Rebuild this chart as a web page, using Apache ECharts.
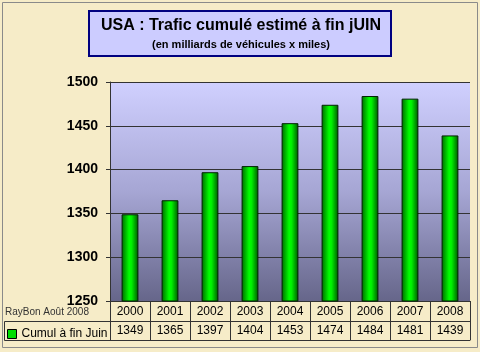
<!DOCTYPE html>
<html>
<head>
<meta charset="utf-8">
<script src="https://cdn.jsdelivr.net/npm/echarts@6/dist/echarts.min.js"></script>
<style>
  html, body { margin: 0; padding: 0; background: #fff; }
  #chart { width: 480px; height: 352px; }
</style>
</head>
<body>
<div id="chart"></div>
<script>
// data
var years = ['2000', '2001', '2002', '2003', '2004', '2005', '2006', '2007', '2008'];
var cumul = [1349, 1365, 1397, 1404, 1453, 1474, 1484, 1481, 1439];
var seriesName = 'Cumul à fin Juin';
var titleText = 'USA : Trafic cumulé estimé à fin jUIN';
var subText = '(en milliards de véhicules x miles)';
var credit = 'RayBon Août 2008';

var chart = echarts.init(document.getElementById('chart'));

var font = 'Arial, "Liberation Sans", sans-serif';
var lineCol = '#333';

chart.setOption({
  backgroundColor: '#F6ECC8',
  textStyle: { fontFamily: font },
  animation: false,
  grid: {
    left: 110, right: 10, top: 82, bottom: 51,
    show: true,
    borderWidth: 0,
    backgroundColor: new echarts.graphic.LinearGradient(0, 0, 0, 1, [
      { offset: 0, color: '#D0D0FF' },
      { offset: 0.5, color: '#A6A6D4' },
      { offset: 1, color: '#66668A' }
    ])
  },
  legend: {
    data: [seriesName],
    left: 2, top: 323,
    itemWidth: 9, itemHeight: 9,
    itemGap: 4,
    icon: 'rect',
    itemStyle: { color: '#00DD00', borderColor: '#000', borderWidth: 1 },
    textStyle: { fontSize: 12, color: '#000', fontFamily: font },
    selectedMode: false
  },
  xAxis: [
    {
      type: 'category',
      data: years,
      position: 'bottom',
      axisLine: { show: true, lineStyle: { color: lineCol, width: 1 } },
      axisTick: { show: true, length: 39, lineStyle: { color: lineCol } },
      axisLabel: { margin: 5, fontSize: 12, color: '#000', fontFamily: font }
    },
    {
      type: 'category',
      data: cumul.map(String),
      position: 'bottom',
      offset: 20,
      axisLine: { show: true, lineStyle: { color: lineCol, width: 1 } },
      axisTick: { show: false },
      axisLabel: { margin: 4, fontSize: 12, color: '#000', fontFamily: font }
    },
    {
      type: 'category',
      data: years,
      position: 'bottom',
      offset: 39,
      axisLine: { show: true, lineStyle: { color: lineCol, width: 1 } },
      axisTick: { show: false },
      axisLabel: { show: false }
    }
  ],
  yAxis: {
    type: 'value',
    min: 1250, max: 1500, interval: 50,
    axisLine: { show: true, lineStyle: { color: lineCol } },
    axisTick: { show: true, length: 4, lineStyle: { color: lineCol } },
    axisLabel: {
      margin: 12, fontSize: 14, fontWeight: 'bold', color: '#000', fontFamily: font,
      formatter: function (v) { return String(v); }
    },
    splitLine: { show: true, lineStyle: { color: '#333', width: 1 } }
  },
  series: [
    {
      name: seriesName,
      type: 'bar',
      xAxisIndex: 0,
      data: cumul,
      barWidth: '42%',
      itemStyle: {
        color: new echarts.graphic.LinearGradient(0, 0, 1, 0, [
          { offset: 0, color: '#006600' },
          { offset: 0.45, color: '#00FF00' },
          { offset: 0.6, color: '#00EE00' },
          { offset: 1, color: '#005500' }
        ]),
        borderColor: '#002200',
        borderWidth: 1
      }
    }
  ],
  graphic: [
    // outer frame
    {
      type: 'rect', silent: true,
      shape: { x: 2.5, y: 2.5, width: 475, height: 345 },
      style: { fill: null, stroke: '#8a8a8a', lineWidth: 1 }
    },
    // title box
    {
      type: 'rect', silent: true,
      shape: { x: 89, y: 11, width: 302, height: 45 },
      style: { fill: '#CCCCFF', stroke: '#000080', lineWidth: 2 }
    },
    {
      type: 'text', silent: true,
      x: 241, y: 26,
      style: { text: titleText, font: 'bold 16px ' + font, fill: '#000', align: 'center', verticalAlign: 'middle' }
    },
    {
      type: 'text', silent: true,
      x: 241, y: 45,
      style: { text: subText, font: 'bold 11px ' + font, fill: '#000', align: 'center', verticalAlign: 'middle' }
    },
    // credit
    {
      type: 'text', silent: true,
      x: 5, y: 312,
      style: { text: credit, font: '10px ' + font, fill: '#333', verticalAlign: 'middle' }
    },
    // left column of the data table
    {
      type: 'polyline', silent: true,
      shape: { points: [[110, 321.5], [4.5, 321.5], [4.5, 340.5], [110, 340.5]] },
      style: { fill: null, stroke: lineCol, lineWidth: 1 }
    }
  ]
});
</script>
</body>
</html>
